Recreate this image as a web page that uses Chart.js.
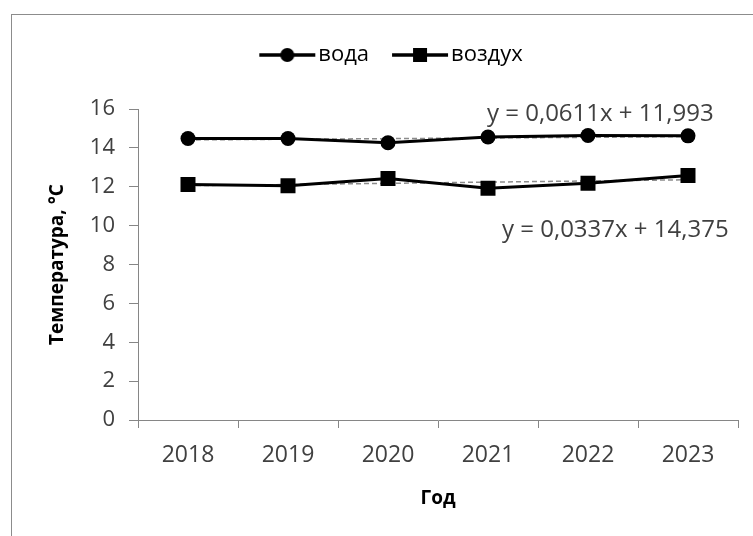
<!DOCTYPE html>
<html lang="ru">
<head>
<meta charset="utf-8">
<title>Температура воды и воздуха</title>
<script src="https://cdn.jsdelivr.net/npm/chart.js@4/dist/chart.umd.min.js"></script>
<style>
  html, body { margin: 0; padding: 0; background: #fff; }
  #wrap { position: relative; width: 753px; height: 536px; overflow: hidden; }
  #frame { position: absolute; left: 11px; top: 14px; width: 800px; height: 600px;
           border-left: 1px solid #8c8c8c; border-top: 1px solid #8c8c8c; }
  canvas { position: absolute; left: 0; top: 0; }
</style>
</head>
<body>
<div id="wrap">
  <div id="frame"></div>
  <canvas id="grafico" width="753" height="536"></canvas>
</div>
<script>
// Данные: средняя температура по годам
const anios = ['2018', '2019', '2020', '2021', '2022', '2023'];
const voda = [14.48, 14.48, 14.26, 14.56, 14.64, 14.62];
const vozduh = [12.12, 12.05, 12.43, 11.92, 12.18, 12.58];
const ticksY = [0, 2, 4, 6, 8, 10, 12, 14, 16];

// Коэффициенты линейных трендов (наклон, свободный член)
const trendVoda = [0.0337, 14.375];
const trendVozduh = [0.0611, 11.993];

const FONT = '"Open Sans", "Noto Sans", sans-serif';

function lineaTendencia(coef) {
  return anios.map((_, i) => coef[0] * (i + 1) + coef[1]);
}

function ecuacion(coef) {
  const f = (v, d) => v.toFixed(d).replace('.', ',');
  return 'y = ' + f(coef[0], 4) + 'x + ' + f(coef[1], 3);
}

// Значок легенды: линия с маркером посередине
function iconoLeyenda(forma) {
  const c = document.createElement('canvas');
  c.width = 60; c.height = 18;
  const g = c.getContext('2d');
  g.strokeStyle = '#000';
  g.lineWidth = 3.5;
  g.beginPath(); g.moveTo(2, 9); g.lineTo(58, 9); g.stroke();
  g.fillStyle = '#000';
  if (forma === 'circle') {
    g.beginPath(); g.arc(30, 9, 7, 0, Math.PI * 2); g.fill();
  } else {
    g.fillRect(23, 2, 14, 14);
  }
  return c;
}

// Отступ под легендой и сдвиг вправо
const margenLeyenda = {
  id: 'margenLeyenda',
  beforeInit(chart) {
    const fitOrig = chart.legend.fit;
    chart.legend.fit = function fit() {
      fitOrig.bind(chart.legend)();
      this.height += 33;
    };
  },
  afterLayout(chart) {
    chart.legend.left += 26;
    chart.legend.right += 26;
  }
};

// Подписи уравнений трендов
const ecuaciones = {
  id: 'ecuaciones',
  afterDatasetsDraw(chart) {
    const ctx = chart.ctx;
    const a = chart.chartArea;
    ctx.save();
    ctx.font = '24px ' + FONT;
    ctx.fillStyle = '#404040';
    ctx.textAlign = 'left';
    ctx.textBaseline = 'middle';
    ctx.fillText(ecuacion(trendVozduh), a.left + 349, 114);
    ctx.fillText(ecuacion(trendVoda), a.left + 364, 230);
    ctx.restore();
  }
};

const ctx = document.getElementById('grafico').getContext('2d');

const chart = new Chart(ctx, {
  type: 'line',
  data: {
    labels: anios,
    datasets: [
      {
        label: 'вода',
        data: voda,
        borderColor: '#000',
        backgroundColor: '#000',
        borderWidth: 3,
        pointStyle: 'circle',
        pointRadius: 7.5,
        pointBorderWidth: 0,
        tension: 0,
        order: 1
      },
      {
        label: 'воздух',
        data: vozduh,
        borderColor: '#000',
        backgroundColor: '#000',
        borderWidth: 3,
        pointStyle: 'rect',
        pointRadius: 10.6,
        pointBorderWidth: 0,
        tension: 0,
        order: 1
      },
      {
        label: 'Тренд вода',
        data: lineaTendencia(trendVoda),
        borderColor: '#8c8c8c',
        borderWidth: 1.5,
        borderDash: [5, 3],
        pointRadius: 0,
        order: 2
      },
      {
        label: 'Тренд воздух',
        data: lineaTendencia(trendVozduh),
        borderColor: '#8c8c8c',
        borderWidth: 1.5,
        borderDash: [5, 3],
        pointRadius: 0,
        order: 2
      }
    ]
  },
  options: {
    responsive: false,
    animation: false,
    layout: { padding: { top: 13, right: 15, left: 0, bottom: 0 } },
    plugins: {
      tooltip: { enabled: false },
      legend: {
        position: 'top',
        labels: {
          font: { family: FONT, size: 22 },
          color: '#000',
          usePointStyle: true,
          pointStyleWidth: 40,
          padding: 31,
          filter: item => !item.text.startsWith('Тренд'),
          generateLabels(chart) {
            const base = Chart.defaults.plugins.legend.labels.generateLabels(chart);
            return base.map(item => {
              const ds = chart.data.datasets[item.datasetIndex];
              item.pointStyle = iconoLeyenda(ds.pointStyle);
              return item;
            });
          }
        }
      }
    },
    scales: {
      x: {
        offset: true,
        afterFit(scale) { scale.height = 116; },
        grid: { offset: true, drawOnChartArea: false, drawTicks: true, tickLength: 8, color: '#868686' },
        border: { color: '#868686', width: 1 },
        ticks: { color: '#404040', font: { family: FONT, size: 23 }, padding: 14, maxRotation: 0 },
        title: {
          display: true,
          text: 'Год',
          color: '#000',
          font: { family: FONT, size: 19, weight: 'bold' },
          padding: { top: 0, bottom: 26 }
        }
      },
      y: {
        min: 0,
        max: 16,
        afterFit(scale) { scale.width = 138; },
        afterBuildTicks(scale) { scale.ticks = ticksY.map(v => ({ value: v })); },
        grid: { drawOnChartArea: false, drawTicks: true, tickLength: 9, color: '#868686' },
        border: { color: '#868686', width: 1 },
        ticks: { color: '#404040', font: { family: FONT, size: 22 }, padding: 14 },
        title: {
          display: true,
          text: 'Температура, °С',
          color: '#000',
          font: { family: FONT, size: 19, weight: 'bold' },
          padding: { top: 46, bottom: 0 }
        }
      }
    }
  },
  plugins: [margenLeyenda, ecuaciones]
});
</script>
</body>
</html>
